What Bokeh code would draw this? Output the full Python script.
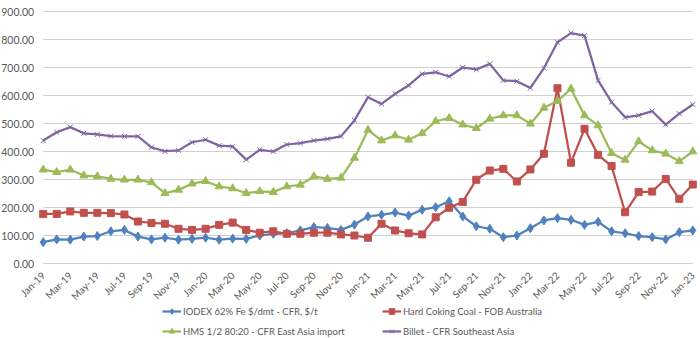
import math
from bokeh.plotting import figure
from bokeh.models import Legend, LegendItem, ColumnDataSource
from bokeh.core.properties import value
from bokeh.embed import file_html
from bokeh.resources import INLINE

months = ["Jan-19", "Feb-19", "Mar-19", "Apr-19", "May-19", "Jun-19", "Jul-19", "Aug-19", "Sep-19", "Oct-19", "Nov-19", "Dec-19",
          "Jan-20", "Feb-20", "Mar-20", "Apr-20", "May-20", "Jun-20", "Jul-20", "Aug-20", "Sep-20", "Oct-20", "Nov-20", "Dec-20",
          "Jan-21", "Feb-21", "Mar-21", "Apr-21", "May-21", "Jun-21", "Jul-21", "Aug-21", "Sep-21", "Oct-21", "Nov-21", "Dec-21",
          "Jan-22", "Feb-22", "Mar-22", "Apr-22", "May-22", "Jun-22", "Jul-22", "Aug-22", "Sep-22", "Oct-22", "Nov-22", "Dec-22",
          "Jan-23"]

iodex = [76, 86, 85, 96, 98, 115, 120, 96, 86, 92, 85, 88,
         92, 85, 89, 88, 100, 106, 108, 118, 130, 127, 120, 139,
         168, 174, 182, 171, 192, 201, 222, 168, 133, 124, 94, 100,
         126, 154, 162, 156, 138, 149, 115, 108, 98, 94, 86, 112,
         118]
hcc = [177, 177, 186, 181, 181, 180, 175, 150, 145, 142, 124, 120,
       124, 138, 146, 120, 110, 115, 106, 106, 110, 110, 104, 100,
       92, 142, 118, 108, 104, 165, 199, 220, 299, 332, 338, 293,
       336, 392, 626, 360, 481, 388, 348, 183, 255, 257, 302, 231,
       282]
hms = [335, 326, 335, 314, 311, 302, 299, 299, 290, 251, 263, 285,
       294, 275, 268, 251, 258, 255, 275, 281, 311, 302, 306, 377,
       477, 439, 457, 442, 465, 508, 519, 496, 483, 517, 529, 529,
       499, 556, 580, 624, 529, 493, 394, 370, 436, 404, 392, 365,
       400]
billet = [439, 469, 487, 465, 461, 455, 454, 454, 415, 401, 404, 433,
          442, 421, 418, 371, 406, 400, 425, 430, 439, 445, 454, 511,
          594, 570, 606, 636, 677, 683, 668, 700, 693, 713, 654, 651,
          627, 698, 790, 823, 814, 654, 576, 522, 529, 544, 496, 535,
          568]

series_names = ["IODEX 62% Fe $/dmt - CFR, $/t", "Hard Coking Coal - FOB Australia",
                "HMS 1/2 80:20 - CFR East Asia import", "Billet - CFR Southeast Asia"]

y_ticks = [0, 100, 200, 300, 400, 500, 600, 700, 800, 900]
y_tick_labels = ["0.00", "100.00", "200.00", "300.00", "400.00", "500.00",
                 "600.00", "700.00", "800.00", "900.00"]

FONT = "Lato"
TXT = "#595959"

# pixel layout of the plotting area inside the 700 x 338 picture
W, H = 700, 338
LEFT_PX, RIGHT_PX, TOP_PX, ZERO_PX = 42.7, 692.3, 11, 263
n = len(months)
px_per_month = (RIGHT_PX - LEFT_PX) / (n - 1)
px_per_unit = (ZERO_PX - TOP_PX) / 900
x_start = -LEFT_PX / px_per_month
x_end = (n - 1) + (W - RIGHT_PX) / px_per_month
y_end = 900 + TOP_PX / px_per_unit
y_start = -(H - ZERO_PX) / px_per_unit

x = list(range(n))
src = ColumnDataSource(dict(x=x, iodex=iodex, hcc=hcc, hms=hms, billet=billet))
tick_x = x[::2]
tick_labels = months[::2]

p = figure(width=W, height=H, x_range=(x_start, x_end), y_range=(y_start, y_end),
           output_backend="svg", toolbar_location=None,
           x_axis_location=None, y_axis_location=None,
           min_border=0)
p.outline_line_color = None
p.background_fill_color = "white"
p.border_fill_color = "white"
p.grid.visible = False

# horizontal gridlines across the plot area
p.segment(x0=[0] * len(y_ticks), x1=[n - 1] * len(y_ticks), y0=y_ticks, y1=y_ticks,
          line_color="#D0D0D0", line_width=1)

# value labels
p.text(x=[0] * len(y_ticks), y=y_ticks, text=y_tick_labels, x_offset=-9,
       text_align="right", text_baseline="middle",
       text_font=value(FONT), text_font_size="10.5px", text_color=TXT)

# month labels, rotated like the original
p.text(x=tick_x, y=[0] * len(tick_x), text=tick_labels, angle=math.pi / 4,
       text_align="right", text_baseline="middle", x_offset=0, y_offset=10,
       text_font=value(FONT), text_font_size="10px", text_color=TXT)

c_blue, c_red, c_green, c_purple = "#4F81BD", "#C0504D", "#9BBB59", "#8064A2"
lw = 2.25

l1 = p.line("x", "iodex", source=src, color=c_blue, line_width=lw)
m1 = p.scatter("x", "iodex", source=src, marker="diamond", size=9, color=c_blue)
l2 = p.line("x", "hcc", source=src, color=c_red, line_width=lw)
m2 = p.scatter("x", "hcc", source=src, marker="square", size=7, color=c_red)
l3 = p.line("x", "hms", source=src, color=c_green, line_width=lw)
m3 = p.scatter("x", "hms", source=src, marker="triangle", size=8, color=c_green)
l4 = p.line("x", "billet", source=src, color=c_purple, line_width=lw)
m4 = p.scatter("x", "billet", source=src, marker="x", size=7, line_color=c_purple, line_width=1)

legend = Legend(items=[LegendItem(label=series_names[0], renderers=[l1, m1]),
                       LegendItem(label=series_names[1], renderers=[l2, m2]),
                       LegendItem(label=series_names[2], renderers=[l3, m3]),
                       LegendItem(label=series_names[3], renderers=[l4, m4])],
                ncols=2, orientation="horizontal", location=(162, 0),
                label_text_font=FONT, label_text_font_size="9.5px", label_text_color=TXT,
                glyph_width=19, glyph_height=14, label_height=14, label_width=193,
                label_standoff=2, spacing=6, padding=0, margin=0,
                border_line_color=None, background_fill_alpha=0)
p.add_layout(legend, "center")

open("out.html", "w").write(file_html(p, INLINE))
